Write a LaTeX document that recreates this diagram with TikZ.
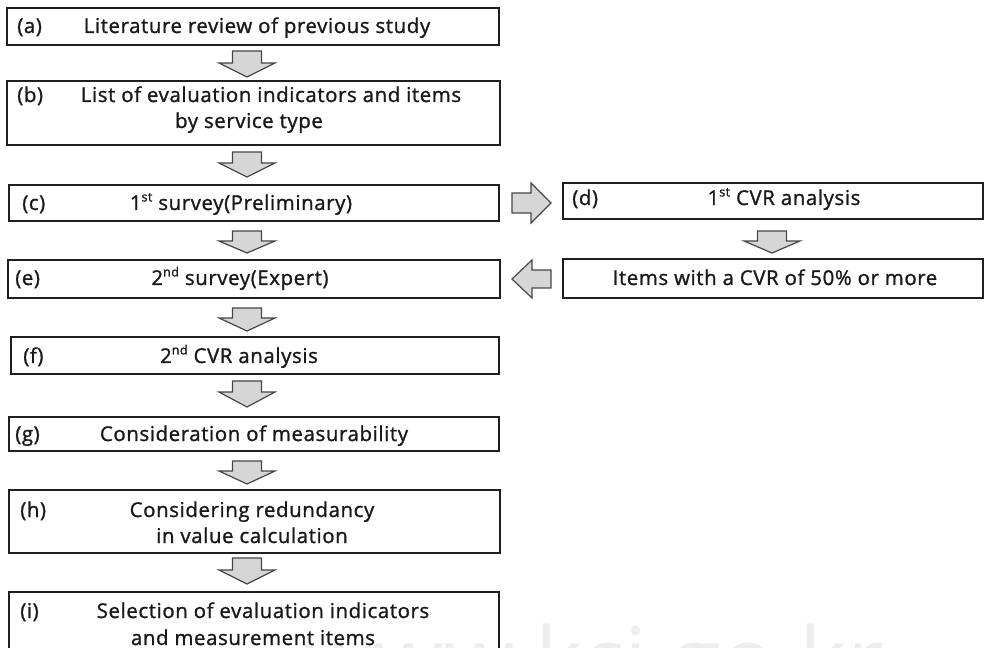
\documentclass[tikz,border=0pt]{standalone}
\usepackage{fontspec}
\setmainfont{Open Sans}[LetterSpace=3, FakeBold=1.2]
\newfontfamily\wmfont{Open Sans}
\usetikzlibrary{fit}
\tikzset{
  box/.style={draw=black!88, line width=1.1pt, inner sep=0pt},
  txt/.style={anchor=base, inner sep=0pt, text=black!90, font=\fontsize{15.3}{18}\selectfont},
  lbl/.style={anchor=base west, inner sep=0pt, text=black!90, font=\fontsize{15.3}{18}\selectfont},
  barr/.style={fill=black!16, draw=black!72, line width=0.9pt, line join=miter},
  wmark/.style={anchor=base west, inner sep=0pt, text=black!7, font=\wmfont\fontsize{68}{68}\selectfont},
}
% vertical block arrow: x centre, shaft top, head start, tip
\newcommand\vblock[4]{%
  \filldraw[barr] (#1-14.5,#2) -- (#1+14.5,#2) -- (#1+14.5,#3) -- (#1+28,#3) -- (#1,#4)
    -- (#1-28,#3) -- (#1-14.5,#3) -- cycle;}
\newcommand\supst[1]{\raisebox{0.42em}{\fontsize{9.5}{10}\selectfont #1}}
\begin{document}
\begin{tikzpicture}[x=0.75pt, y=-0.75pt]
\useasboundingbox (0,0) rectangle (985,648);
\clip (0,0) rectangle (985,648);
% watermark
\node[wmark] (wm) at (303,692) {www.kci.go.kr};
% boxes
\node[box, fit={(7,8) (499,45)}] (a) {};
\node[box, fit={(7,81) (500,145)}] (b) {};
\node[box, fit={(9,185) (499,221)}] (c) {};
\node[box, fit={(563,183) (983,219)}] (d) {};
\node[box, fit={(8,260) (500,298)}] (e) {};
\node[box, fit={(563,259) (983,298)}] (it) {};
\node[box, fit={(11,337) (499,374)}] (f) {};
\node[box, fit={(9,417) (499,451)}] (g) {};
\node[box, fit={(9,490) (500,553)}] (h) {};
\node[box, fit={(9,592) (499,680)}] (i) {};
% texts
\node[lbl] (al) at (17,33) {(a)};
\node[txt] (at) at (257,33) {Literature review of previous study};
\node[lbl] (bl) at (17,102) {(b)};
\node[txt] (bt1) at (271,102) {List of evaluation indicators and items};
\node[txt] (bt2) at (249,128) {by service type};
\node[lbl] (cl) at (22,210) {(c)};
\node[txt] (ct) at (241,210) {1\supst{st} survey(Preliminary)};
\node[lbl] (dl) at (572,205) {(d)};
\node[txt] (dt) at (784,205) {1\supst{st} CVR analysis};
\node[lbl] (el) at (15,285) {(e)};
\node[txt] (et) at (240,285) {2\supst{nd} survey(Expert)};
\node[txt] (itt) at (775,285) {Items with a CVR of 50\% or more};
\node[lbl] (fl) at (23,363) {(f)};
\node[txt] (ft) at (239,363) {2\supst{nd} CVR analysis};
\node[lbl] (gl) at (15,441) {(g)};
\node[txt] (gt) at (254,441) {Consideration of measurability};
\node[lbl] (hl) at (20,517) {(h)};
\node[txt] (ht1) at (252,517) {Considering redundancy};
\node[txt] (ht2) at (252,543) {in value calculation};
\node[lbl] (il) at (20,618) {(i)};
\node[txt] (it1) at (263,618) {Selection of evaluation indicators};
\node[txt] (it2) at (253,645) {and measurement items};
% block arrows
\vblock{247}{51}{63}{77}
\vblock{247}{152}{163}{177}
\vblock{247}{231}{241}{253}
\vblock{247}{308}{318}{331}
\vblock{247}{381}{392}{407}
\vblock{247}{461}{471}{484}
\vblock{247}{558}{570}{584}
\vblock{772}{231}{241}{253}
% right arrow (c) -> (d)
\filldraw[barr] (512,193) -- (531,193) -- (531,183) -- (551,203) -- (531,223) -- (531,213) -- (512,213) -- cycle;
% left arrow (items) -> (e)
\filldraw[barr] (551,270) -- (532,270) -- (532,260) -- (512,279) -- (532,298) -- (532,288) -- (551,288) -- cycle;
\end{tikzpicture}
\end{document}
